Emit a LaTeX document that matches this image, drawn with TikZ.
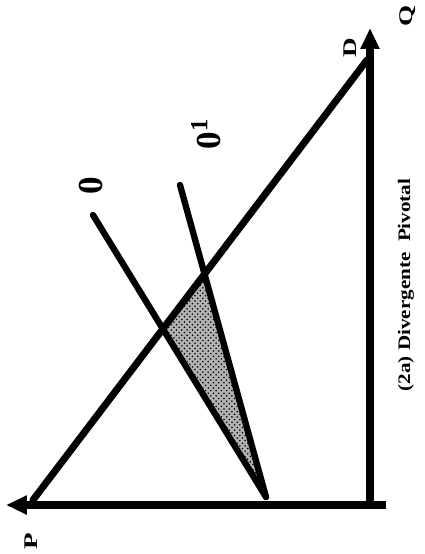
\documentclass[tikz,border=0pt]{standalone}
\usepackage{fontspec}
\setmainfont{Liberation Serif}
\usepackage{graphicx}
\usetikzlibrary{arrows.meta, patterns}
\newcommand{\widetext}[1]{\scalebox{1.4}[1]{#1}}

\begin{document}
\begin{tikzpicture}[x=0.02cm, y=-0.02cm,
    axis/.style={line width=5pt, -{Triangle[length=0.42cm, width=0.36cm]}},
    curve/.style={line width=3.6pt, line cap=round},
    lbl/.style={font=\bfseries\fontsize{11}{11}\selectfont, rotate=90, inner sep=0pt},
    biglbl/.style={font=\bfseries\fontsize{20}{20}\selectfont, rotate=90, inner sep=0pt}
  ]
  \useasboundingbox (0,0) rectangle (424,554);
  % axes end points
  \coordinate (origin) at (370,509);
  \coordinate (qend) at (370,28);
  \coordinate (pend) at (6,505);
  \coordinate (xstub) at (386,505);
  % demand and the two supply lines
  \coordinate (dtop) at (367,60);
  \coordinate (dbot) at (33,500);
  \coordinate (otop) at (93,215);
  \coordinate (o1top) at (180,185);
  \coordinate (obot) at (266,497);

  % shaded triangle
  \fill[black!30]
    (intersection of dtop--dbot and o1top--obot) --
    (intersection of dtop--dbot and otop--obot) -- (obot) -- cycle;
  \fill[pattern=crosshatch dots, pattern color=black]
    (intersection of dtop--dbot and o1top--obot) --
    (intersection of dtop--dbot and otop--obot) -- (obot) -- cycle;

  \draw[curve] (otop) -- (obot);
  \draw[curve] (o1top) -- (obot);
  \draw[curve, line width=4pt] (dtop) -- (dbot);

  \draw[axis] (xstub) -- (pend);
  \draw[axis] (origin) -- (qend);

  \node[lbl] (plbl) at (31,541) {\widetext{P}};
  \node[lbl] (qlbl) at (408,16) {\widetext{Q}};
  \node[lbl] (dlbl) at (350,48) {\widetext{D}};
  \node[biglbl] (olbl) at (91,186) {0};
  \node[biglbl] (o1lbl) at (206,134) {0\textsuperscript{1}};
  \node[lbl, font=\bfseries\fontsize{10}{10}\selectfont] (title) at (406,285)
    {\scalebox{1.2}[1]{(2a) Divergente\ \ Pivotal}};
\end{tikzpicture}
\end{document}
